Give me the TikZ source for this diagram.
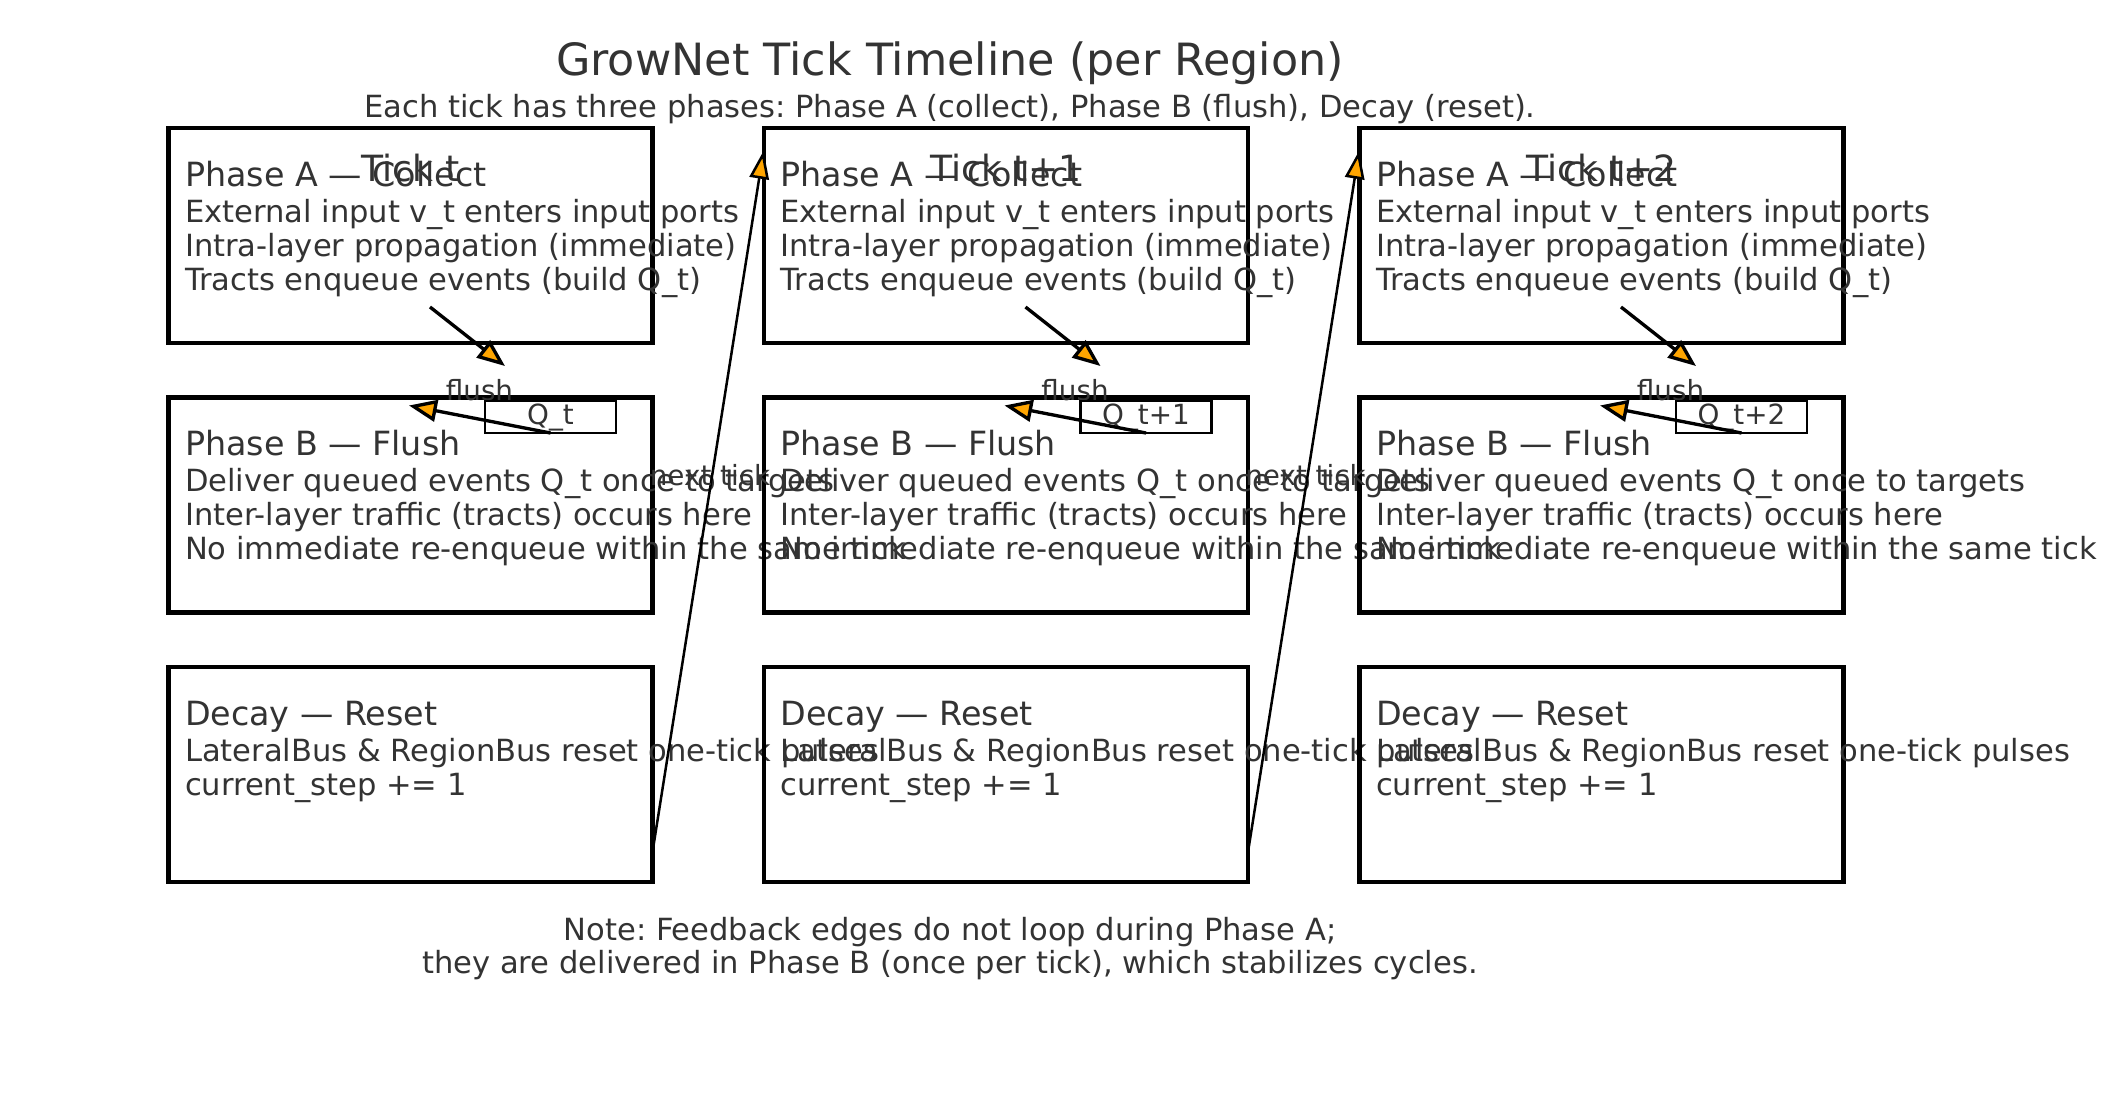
\documentclass[tikz,border=0pt]{standalone}
\usepackage{fontspec}
\setmainfont{DejaVu Sans}
\usetikzlibrary{arrows.meta}
\definecolor{txt}{HTML}{333333}
\definecolor{headfill}{HTML}{FFA500}
\frenchspacing
\begin{document}
\begin{tikzpicture}[x=0.36pt,y=-0.36pt,
  phasebox/.style={draw=black, line width=1.5pt, minimum width=174.24pt, minimum height=77.4pt, inner sep=0pt, outer sep=0pt},
  qbox/.style={draw=black, fill=white, line width=1pt, minimum width=47.16pt, minimum height=11.52pt, inner sep=0pt, outer sep=0pt},
  ttl/.style={text=txt, font=\fontsize{16}{19}\selectfont, inner sep=0pt, anchor=base},
  sub/.style={text=txt, font=\fontsize{11}{13}\selectfont, inner sep=0pt, anchor=base},
  head/.style={text=txt, font=\fontsize{12}{14}\selectfont, inner sep=0pt, anchor=base west},
  body/.style={text=txt, font=\fontsize{11}{13}\selectfont, inner sep=0pt, anchor=base west},
  small/.style={text=txt, font=\fontsize{10}{12}\selectfont, inner sep=0pt, anchor=base},
  ticklbl/.style={text=txt, font=\fontsize{13}{15}\selectfont, inner sep=0pt, anchor=base},
  flusharrow/.style={draw=black, line width=1.2pt, -{Triangle[length=10pt,width=7.8pt,fill=headfill]}},
  nextarrow/.style={draw=black, line width=0.9pt, -{Triangle[length=10pt,width=7pt,fill=headfill]}}
]
\path[fill=white] (0,0) rectangle (2113,1118);
\useasboundingbox (0,0) rectangle (2113,1118);

\node[ttl] (title) at (950,75) {GrowNet Tick Timeline (per Region)};
\node[sub] (subtitle) at (950,117.5) {Each tick has three phases: Phase A (collect), Phase B (flush), Decay (reset).};

\foreach \c/\lab in {0/t,1/t+1,2/t+2} {
  \pgfmathsetmacro\L{168.5+595.5*\c}
  % boxes
  \node[phasebox] (A\c) at (\L+242,235.5) {};
  \node[phasebox] (B\c) at (\L+242,505) {};
  \node[phasebox] (D\c) at (\L+242,774.5) {};
  % phase A text
  \node[head] (Ah\c) at (\L+16,186) {Phase A — Collect};
  \node[body] (Aa\c) at (\L+16,222) {External input v\_t enters input ports};
  \node[body] (Ab\c) at (\L+16,256) {Intra-layer propagation (immediate)};
  \node[body] (Ac\c) at (\L+16,290) {Tracts enqueue events (build Q\_t)};
  \node[ticklbl] (T\c) at (\L+242,181.7) {Tick \lab};
  % phase B text
  \node[head] (Bh\c) at (\L+16,455.5) {Phase B — Flush};
  \node[body] (Ba\c) at (\L+16,491.5) {Deliver queued events Q\_t once to targets};
  \node[body] (Bb\c) at (\L+16,525.5) {Inter-layer traffic (tracts) occurs here};
  \node[body] (Bc\c) at (\L+16,559.5) {No immediate re-enqueue within the same tick};
  % decay text
  \node[head] (Dh\c) at (\L+16,725) {Decay — Reset};
  \node[body] (Da\c) at (\L+16,761) {LateralBus \& RegionBus reset one-tick pulses};
  \node[body] (Db\c) at (\L+16,795) {current\_step += 1};
  % flush connectors
  \coordinate (fs\c) at (\L+261.5,307);
  \coordinate (fe\c) at (\L+336.5,366);
  \draw[flusharrow] (fs\c) -- (fe\c);
  \node[small] (fl\c) at (\L+311,400) {flush};
  \node[qbox] (Q\c) at (\L+382,417) {};
  \node[small] (Qt\c) at (\L+382,424) {Q\_\lab};
  \coordinate (qe\c) at (\L+240.5,405.5);
  \draw[flusharrow] (Q\c.south) -- (qe\c);
}

\foreach \c in {0,1} {
  \pgfmathsetmacro\L{168.5+595.5*\c}
  \coordinate (ns\c) at (\L+484,852);
  \coordinate (ne\c) at (\L+595,151);
  \draw[nextarrow] (ns\c) -- (ne\c);
  \node[small] (nt\c) at (\L+541.5,485) {next tick};
}

\node[sub] (note1) at (950,940) {Note: Feedback edges do not loop during Phase A;};
\node[sub] (note2) at (950,973.5) {they are delivered in Phase B (once per tick), which stabilizes cycles.};
\end{tikzpicture}
\end{document}
